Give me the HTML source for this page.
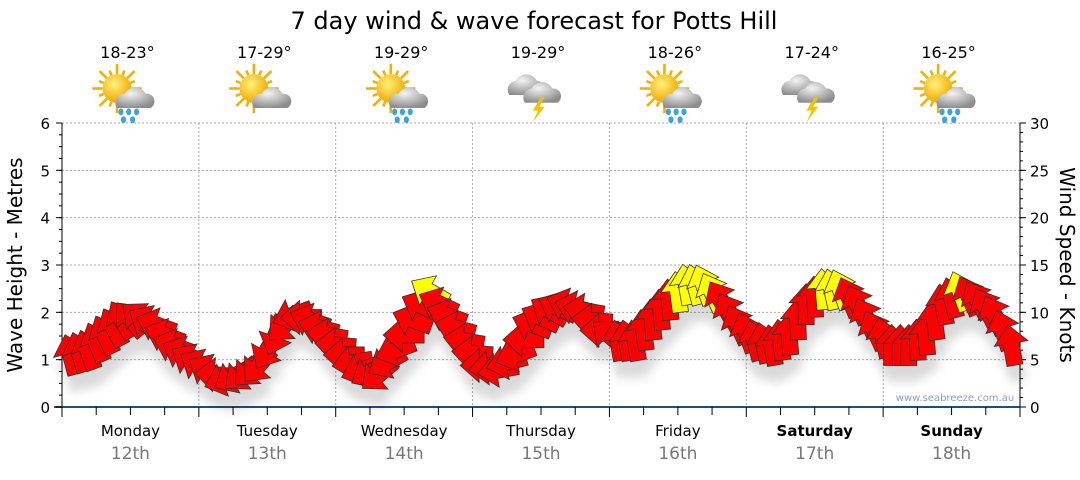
<!DOCTYPE html>
<html><head><meta charset="utf-8"><style>
body{margin:0;background:#fff;font-family:"Liberation Sans","DejaVu Sans",sans-serif}
svg text{font-family:"DejaVu Sans","Liberation Sans",sans-serif}
</style></head><body>
<svg id="c" width="1080" height="475" xmlns="http://www.w3.org/2000/svg">
<defs>
<filter id="sh" x="-50%" y="-50%" width="200%" height="200%"><feGaussianBlur in="SourceAlpha" stdDeviation="5"/><feOffset dx="3" dy="16"/><feComponentTransfer><feFuncA type="linear" slope="0.15"/></feComponentTransfer><feMerge><feMergeNode/><feMergeNode in="SourceGraphic"/></feMerge></filter>
<radialGradient id="cl" cx="40%" cy="30%" r="70%"><stop offset="0" stop-color="#f4f4f4"/><stop offset="1" stop-color="#8d8d8d"/></radialGradient>
<radialGradient id="sun" cx="40%" cy="35%" r="65%"><stop offset="0" stop-color="#fff27a"/><stop offset="1" stop-color="#f0a800"/></radialGradient>
</defs>
<text x="534" y="29" font-size="24" text-anchor="middle" fill="#000" font-family="DejaVu Sans, sans-serif">7 day wind &amp; wave forecast for Potts Hill</text>
<g id="grid"></g>
<g id="axes"></g>
<g id="icons"></g>
<g id="arrows" filter="url(#sh)"></g>
<text x="955" y="401" font-size="10" fill="#8aa0c0" text-anchor="middle">www.seabreeze.com.au</text>
<text transform="translate(22,265) rotate(-90)" font-size="20" text-anchor="middle">Wave Height - Metres</text>
<text transform="translate(1060,265) rotate(90)" font-size="20" text-anchor="middle">Wind Speed - Knots</text>
</svg>
<script>
const days=["Monday","Tuesday","Wednesday","Thursday","Friday","Saturday","Sunday"];
const dates=["12th","13th","14th","15th","16th","17th","18th"];
const temps=["18-23°","17-29°","19-29°","19-29°","18-26°","17-24°","16-25°"];
const icons=["sunrain","suncloud","sunrain","storm","sunrain","storm","sunrain"];
const waveTicks=[0,1,2,3,4,5,6];
const windTicks=[0,5,10,15,20,25,30];
const windKn=[5.5,6,7.6,9.2,9.4,8.7,6.5,5,
3.9,2.9,3.4,4.4,7.6,9.7,9.2,7.6,
5.5,3.9,3.4,6,9.2,12.2,9.7,7,
4.4,3.9,5.5,8.7,10.2,10.8,10.2,8.1,
7,7,9.2,11.3,12.9,12.9,11.3,8.7,
7,6.5,7.6,10.8,12.4,12.4,10.8,8.1,
6.5,6.5,7.6,10.8,12.2,11.3,9.7,6.5];
const windDir=[105,110,115,120,140,160,160,150,
150,200,220,230,250,200,160,170,
180,200,220,200,160,150,160,170,
180,190,200,160,150,160,170,180,
100,100,95,95,100,110,120,115,
105,100,95,90,95,110,115,115,
90,90,95,100,110,120,115,100];
const NS="http://www.w3.org/2000/svg";
const X0=62,X1=1020,Y0=407,Y1=123,DW=(X1-X0)/7;
const xT=h=>X0+h/24*DW;
const yW=m=>Y0-(m/6)*(Y0-Y1);
const yK=k=>Y0-(k/30)*(Y0-Y1);
function mk(t,a,p){const e=document.createElementNS(NS,t);for(const k in a)e.setAttribute(k,a[k]);(p||document.getElementById('c')).appendChild(e);return e;}
const G=document.getElementById('grid'),A=document.getElementById('axes'),I=document.getElementById('icons'),R=document.getElementById('arrows');
waveTicks.slice(1).forEach(v=>{const l=mk('line',{x1:X0,x2:X1,y1:yW(v),y2:yW(v),stroke:'#aaa','stroke-dasharray':'2,2'},G);

});
for(let d=1;d<7;d++){const l=mk('line',{x1:X0+d*DW,x2:X0+d*DW,y1:Y1,y2:Y0,stroke:'#aaa','stroke-dasharray':'2,2'},G);

}
mk('line',{x1:X0,x2:X0,y1:Y1,y2:Y0,stroke:'#000'},A);
mk('line',{x1:X1,x2:X1,y1:Y1,y2:Y0,stroke:'#000'},A);
mk('line',{x1:X0-8,x2:X1,y1:Y0,y2:Y0,stroke:'#1f4e79','stroke-width':2},A);
waveTicks.forEach(v=>{const t=mk('text',{x:X0-12,y:yW(v)+6,'font-size':15,'text-anchor':'end'},A);t.textContent=v;


mk('line',{x1:X0-6,x2:X0,y1:yW(v),y2:yW(v),stroke:'#000'},A);});
for(let v=0;v<=6;v+=0.25)mk('line',{x1:X0-3,x2:X0,y1:yW(v),y2:yW(v),stroke:'#000'},A);
windTicks.forEach(v=>{const t=mk('text',{x:X1+10,y:yK(v)+6,'font-size':15},A);t.textContent=v;


mk('line',{x1:X1,x2:X1+6,y1:yK(v),y2:yK(v),stroke:'#000'},A);});
for(let v=0;v<=30;v+=1)mk('line',{x1:X1,x2:X1+3,y1:yK(v),y2:yK(v),stroke:'#000'},A);
for(let h=0;h<=168;h+=6)mk('line',{x1:xT(h),x2:xT(h),y1:Y0,y2:Y0+(h%24?8:10),stroke:'#000'},A);
days.forEach((d,i)=>{const cx=X0+(i+0.5)*DW;
const t=mk('text',{x:cx,y:436,'font-size':15,'text-anchor':'middle','font-weight':i>=5?'bold':'normal'},A);t.textContent=d;


const t2=mk('text',{x:cx,y:459,'font-size':17,'text-anchor':'middle',fill:'#777'},A);t2.textContent=dates[i];


const t3=mk('text',{x:cx-3,y:58,'font-size':16,'text-anchor':'middle'},I);t3.textContent=temps[i];


const g=mk('g',{transform:`translate(${cx-3},95) scale(1.3)`},I);


const k=icons[i];
if(k!=='storm'){
 for(let r=0;r<16;r++){const a=r*Math.PI/8;mk('line',{x1:-8+Math.cos(a)*11,y1:-5+Math.sin(a)*11,x2:-8+Math.cos(a)*(r%2?15:19),y2:-5+Math.sin(a)*(r%2?15:19),stroke:'#f2b000','stroke-width':2},g);}
 mk('circle',{cx:-8,cy:-5,r:11,fill:'url(#sun)'},g);
 mk('path',{d:'M-8,10 a7,7 0 0 1 6,-11 a9,9 0 0 1 16,0 a6,6 0 0 1 4,11 z',fill:'url(#cl)'},g);
 if(k==='sunrain'){[[-5,13],[1,13],[7,13],[-3,19],[4,19]].forEach(p=>mk('ellipse',{cx:p[0],cy:p[1],rx:2,ry:2.6,fill:'#3ba4e0'},g));}
}else{
 mk('path',{d:'M-22,0 a7,7 0 0 1 5,-11 a9,9 0 0 1 16,0 a6,6 0 0 1 3,11 z',fill:'url(#cl)'},g);
 mk('path',{d:'M-10,6 a7,7 0 0 1 5,-11 a9,9 0 0 1 16,0 a6,6 0 0 1 4,11 z',fill:'url(#cl)'},g);
 mk('path',{d:'M2,2 l-6,10 l4,0 l-4,9 l9,-12 l-4,0 l4,-7z',fill:'#f2c200'},g);
}
});
windKn.forEach((k,i)=>{const x=xT(1.5+3*i),y=yK(k),a=windDir[i];
const col=k>=12?'#ffff00':'#ff0000';
const p=mk('polygon',{points:'-20,-8 2,-8 2,-17 21,0 2,17 2,8 -20,8',fill:col,stroke:'#333','stroke-width':0.8,transform:`translate(${x},${y}) rotate(${-a})`},R);


if(i<windKn.length-1){const k2=windKn[i+1],a2=windDir[i+1];
const q=mk('polygon',{points:'-20,-8 2,-8 2,-17 21,0 2,17 2,8 -20,8',fill:((k+k2)/2)>=12?'#ffff00':'#ff0000',stroke:'#333','stroke-width':0.8,transform:`translate(${xT(3+3*i)},${yK((k+k2)/2)}) rotate(${-(a+a2)/2})`},R);

}
});
</script>
</body></html>
